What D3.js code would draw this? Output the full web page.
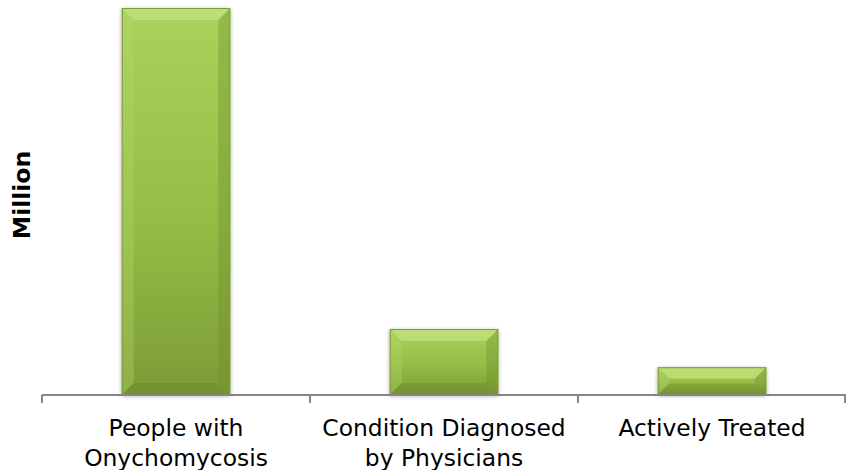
<!DOCTYPE html>
<html>
<head>
<meta charset="utf-8">
<script src="https://cdnjs.cloudflare.com/ajax/libs/d3/7.8.5/d3.min.js"></script>
<style>
  body { margin: 0; background: #fff; }
  text { font-family: "DejaVu Sans", Verdana, sans-serif; }
</style>
</head>
<body>
<svg id="chart"></svg>
<script>
// data (million)
const categories = ["People with\nOnychomycosis", "Condition Diagnosed\nby Physicians", "Actively Treated"];
const values = [35.5, 6.05, 2.55];

const width = 846, height = 470;
const margin = {top: 8, right: 0, bottom: 75, left: 42};

const svg = d3.select("#chart")
    .attr("width", width)
    .attr("height", height);

const x = d3.scaleBand()
    .domain(categories)
    .range([margin.left, width - margin.right])
    .paddingInner(0.595)
    .paddingOuter(0.2975);

const y = d3.scaleLinear()
    .domain([0, 35.5])
    .range([height - margin.bottom, margin.top]);

// gradients
const defs = svg.append("defs");
const grad = defs.append("linearGradient")
    .attr("id", "barGrad")
    .attr("x1", 0).attr("y1", 0).attr("x2", 0).attr("y2", 1);
grad.append("stop").attr("offset", "0%").attr("stop-color", "#abd25c");
grad.append("stop").attr("offset", "55%").attr("stop-color", "#95bd45");
grad.append("stop").attr("offset", "100%").attr("stop-color", "#7c9c37");

const shadow = defs.append("filter").attr("id", "shadow")
    .attr("x", "-10%").attr("y", "-10%").attr("width", "120%").attr("height", "120%");
shadow.append("feGaussianBlur").attr("in", "SourceAlpha").attr("stdDeviation", 2);
shadow.append("feOffset").attr("dx", 0).attr("dy", 1).attr("result", "b");
shadow.append("feComponentTransfer").append("feFuncA").attr("type", "linear").attr("slope", 0.35);
const merge = shadow.append("feMerge");
merge.append("feMergeNode");
merge.append("feMergeNode").attr("in", "SourceGraphic");

const bars = svg.append("g")
    .selectAll("g")
    .data(values)
    .join("g");

const bev = 12;

bars.each(function(d, i) {
    const g = d3.select(this);
    const x0 = x(categories[i]), x1 = x0 + x.bandwidth();
    const y0 = y(d), y1 = y(0);
    const b = Math.min(bev, (y1 - y0) / 2.4);

    g.append("rect")
        .attr("x", x0).attr("y", y0)
        .attr("width", x1 - x0).attr("height", y1 - y0)
        .attr("fill", "url(#barGrad)")
        .attr("filter", "url(#shadow)");

    // bevel: top
    g.append("polygon")
        .attr("points", [[x0, y0], [x1, y0], [x1 - b, y0 + b], [x0 + b, y0 + b]].join(" "))
        .attr("fill", "#c3e27c").attr("opacity", 0.75);
    // left
    g.append("polygon")
        .attr("points", [[x0, y0], [x0 + b, y0 + b], [x0 + b, y1 - b], [x0, y1]].join(" "))
        .attr("fill", "#b3d66a").attr("opacity", 0.35);
    // right
    g.append("polygon")
        .attr("points", [[x1, y0], [x1 - b, y0 + b], [x1 - b, y1 - b], [x1, y1]].join(" "))
        .attr("fill", "#6d8a2c").attr("opacity", 0.35);
    // bottom
    g.append("polygon")
        .attr("points", [[x0, y1], [x0 + b, y1 - b], [x1 - b, y1 - b], [x1, y1]].join(" "))
        .attr("fill", "#5f7a24").attr("opacity", 0.3);

    g.append("rect")
        .attr("x", x0 + 0.5).attr("y", y0 + 0.5)
        .attr("width", x1 - x0 - 1).attr("height", y1 - y0 - 1)
        .attr("fill", "none")
        .attr("stroke", "#7f9c3a").attr("stroke-width", 1);
});

// x axis
const xAxis = svg.append("g")
    .attr("transform", `translate(0,${y(0)})`);

xAxis.append("line")
    .attr("x1", margin.left).attr("x2", width)
    .attr("stroke", "#868686").attr("stroke-width", 2);

const tickXs = categories.map(c => x(c) - x.step() * x.paddingInner() / 2)
    .concat([width - 1]);
xAxis.selectAll(".tick")
    .data(tickXs)
    .join("line")
    .attr("x1", d => d).attr("x2", d => d)
    .attr("y1", 0).attr("y2", 8)
    .attr("stroke", "#868686").attr("stroke-width", 2);

const labels = xAxis.selectAll(".lbl")
    .data(categories)
    .join("text")
    .attr("text-anchor", "middle")
    .attr("font-size", 23.4)
    .attr("fill", "#000")
    .attr("transform", d => `translate(${x(d) + x.bandwidth() / 2},41)`);

labels.selectAll("tspan")
    .data(d => d.split("\n"))
    .join("tspan")
    .attr("x", 0)
    .attr("dy", (d, i) => i === 0 ? 0 : 29.5)
    .text(d => d);

// y axis title
svg.append("text")
    .attr("transform", `translate(30,195) rotate(-90)`)
    .attr("text-anchor", "middle")
    .attr("font-size", 23.5)
    .attr("font-weight", "bold")
    .text("Million");
</script>
</body>
</html>
